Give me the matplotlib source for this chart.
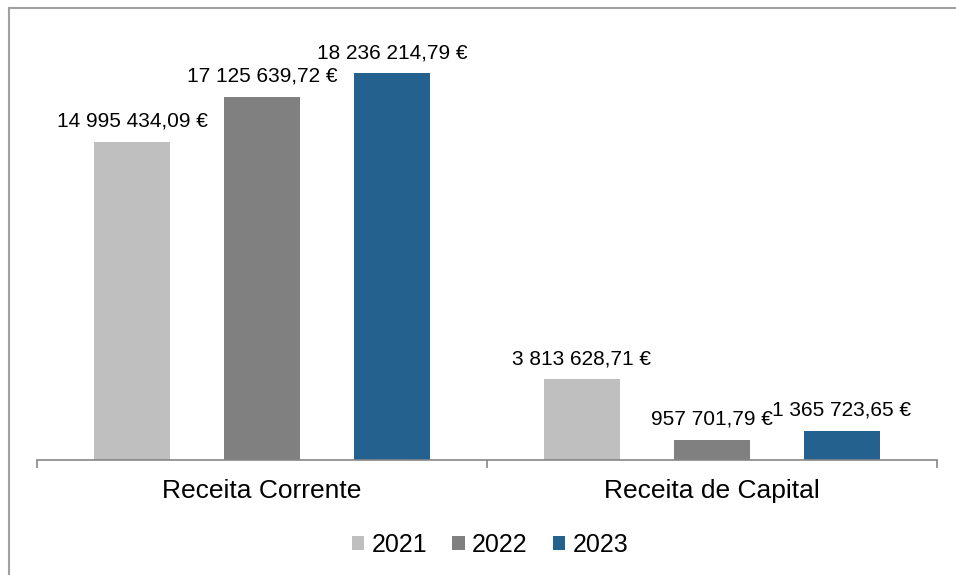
import matplotlib.pyplot as plt
from matplotlib.lines import Line2D
import numpy as np

plt.rcParams['font.family'] = ['Liberation Sans', 'DejaVu Sans']

categorias = ['Receita Corrente', 'Receita de Capital']
anos = ['2021', '2022', '2023']
valores_2021 = [14995434.09, 3813628.71]
valores_2022 = [17125639.72, 957701.79]
valores_2023 = [18236214.79, 1365723.65]
etiquetas_2021 = ['14 995 434,09 €', '3 813 628,71 €']
etiquetas_2022 = ['17 125 639,72 €', '957 701,79 €']
etiquetas_2023 = ['18 236 214,79 €', '1 365 723,65 €']
cores = ['#bfbfbf', '#808080', '#24618e']

fig = plt.figure(figsize=(9.56, 5.75), dpi=100)
ax = fig.add_axes([37/956, 1 - 460/575, 900/956, 424/575])

x = np.arange(len(categorias))
largura = 76/450
passo = 130/450
series = [valores_2021, valores_2022, valores_2023]
etiquetas = [etiquetas_2021, etiquetas_2022, etiquetas_2023]
for i in range(3):
    pos = x + (i - 1) * passo
    barras = ax.bar(pos, series[i], width=largura, color=cores[i], label=anos[i])
    for b, t in zip(barras, etiquetas[i]):
        ax.annotate(t, (b.get_x() + b.get_width()/2, b.get_height()),
                    xytext=(0, 8), textcoords='offset points',
                    ha='center', va='bottom', fontsize=15, color='#000000')

ax.set_xlim(-0.5, 1.5)
ax.set_ylim(0, 20000000)
ax.set_yticks([])
for s in ['top', 'right', 'left']:
    ax.spines[s].set_visible(False)
ax.spines['bottom'].set_color('#868686')
ax.spines['bottom'].set_linewidth(1.2)
ax.set_xticks([-0.5, 0.5, 1.5])
ax.set_xticklabels([])
ax.set_xticks(x, minor=True)
ax.set_xticklabels(categorias, minor=True, fontsize=19)
ax.tick_params(axis='x', which='major', length=6, width=1.2, color='#868686', direction='out')
ax.tick_params(axis='x', which='minor', length=0, pad=14)

ax.legend(loc='center', bbox_to_anchor=(490/956, 1 - 545/575), bbox_transform=fig.transFigure,
          ncol=3, frameon=False, fontsize=18, handlelength=0.5, handleheight=0.5,
          handletextpad=0.3, columnspacing=1.0)

# moldura (só esquerda e topo visíveis)
fig.add_artist(Line2D([8.5/956, 8.5/956], [0, 1 - 7.5/575], transform=fig.transFigure, color='#a0a0a0', lw=1.5))
fig.add_artist(Line2D([8.5/956, 1], [1 - 7.5/575, 1 - 7.5/575], transform=fig.transFigure, color='#a0a0a0', lw=1.5))

plt.savefig('out.png', dpi=100)
